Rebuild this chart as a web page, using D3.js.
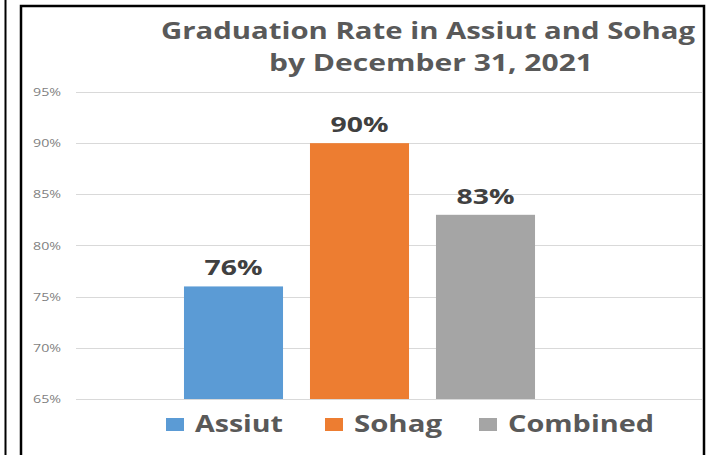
<!DOCTYPE html>
<html>
<head>
<meta charset="utf-8">
<script src="https://cdn.jsdelivr.net/npm/d3@7"></script>
<style>
  body { margin: 0; background: #fff; }
  text { font-family: "Open Sans", "DejaVu Sans", sans-serif; }
</style>
</head>
<body>
<svg width="710" height="455"></svg>
<script>
const series = ['Assiut', 'Sohag', 'Combined'];
const rates = [0.76, 0.90, 0.83];
const tickValues = [0.65, 0.70, 0.75, 0.80, 0.85, 0.90, 0.95];
const titleLines = ['Graduation Rate in Assiut and Sohag', 'by December 31, 2021'];

const colors = ['#5b9bd5', '#ed7d31', '#a5a5a5'];

const svg = d3.select('svg');

// outer borders
svg.append('line')
  .attr('x1', 5.5).attr('x2', 5.5).attr('y1', 0).attr('y2', 455)
  .attr('stroke', '#000').attr('stroke-width', 2);
svg.append('path')
  .attr('d', 'M21,460V6H704V460')
  .attr('fill', 'none').attr('stroke', '#000').attr('stroke-width', 2.5);

const y = d3.scaleLinear().domain([0.65, 0.95]).range([399, 92]);
const x = d3.scaleBand().domain(series).range([170.5, 548.5]).paddingInner(0.214).paddingOuter(0.107);

// gridlines
svg.append('g')
  .selectAll('line')
  .data(tickValues)
  .enter()
  .append('line')
  .attr('x1', 76).attr('x2', 702)
  .attr('y1', d => Math.round(y(d)) + 0.5)
  .attr('y2', d => Math.round(y(d)) + 0.5)
  .attr('stroke', '#d9d9d9').attr('stroke-width', 1.2);

// y labels
svg.append('g')
  .selectAll('text')
  .data(tickValues)
  .enter()
  .append('text')
  .attr('x', 61)
  .attr('y', d => y(d) + 4)
  .attr('text-anchor', 'end')
  .attr('font-size', 10.5)
  .attr('fill', '#7f7f7f')
  .attr('textLength', 28)
  .attr('lengthAdjust', 'spacingAndGlyphs')
  .text(d3.format('.0%'));

// bars
svg.append('g')
  .selectAll('rect')
  .data(series)
  .enter()
  .append('rect')
  .attr('x', d => x(d))
  .attr('width', x.bandwidth())
  .attr('y', (d, i) => y(rates[i]))
  .attr('height', (d, i) => y(0.65) - y(rates[i]))
  .attr('fill', (d, i) => colors[i]);

// data labels
svg.append('g')
  .selectAll('text')
  .data(series)
  .enter()
  .append('text')
  .attr('x', d => x(d) + x.bandwidth() / 2)
  .attr('y', (d, i) => y(rates[i]) - 11)
  .attr('text-anchor', 'middle')
  .attr('font-size', 22)
  .attr('font-weight', 'bold')
  .attr('fill', '#404040')
  .attr('textLength', 58)
  .attr('lengthAdjust', 'spacingAndGlyphs')
  .text((d, i) => d3.format('.0%')(rates[i]));

// title
const titleWidths = [534, 324];
const titleY = [39, 71];
svg.append('g')
  .selectAll('text')
  .data(titleLines)
  .enter()
  .append('text')
  .attr('x', (d, i) => i === 0 ? 428 : 431)
  .attr('y', (d, i) => titleY[i])
  .attr('text-anchor', 'middle')
  .attr('font-size', 23)
  .attr('font-weight', 'bold')
  .attr('fill', '#595959')
  .attr('textLength', (d, i) => titleWidths[i])
  .attr('lengthAdjust', 'spacingAndGlyphs')
  .text(d => d);

// legend
const legendX = [166, 325, 479];
const legendW = [88, 88, 146];
const legend = svg.selectAll('.legend')
  .data(series)
  .enter()
  .append('g')
  .attr('class', 'legend')
  .attr('transform', (d, i) => `translate(${legendX[i]}, 418)`);

legend.append('rect')
  .attr('width', 18).attr('height', 13)
  .attr('fill', (d, i) => colors[i]);

legend.append('text')
  .attr('x', 29)
  .attr('y', 14)
  .attr('font-size', 23)
  .attr('font-weight', 'bold')
  .attr('fill', '#595959')
  .attr('textLength', (d, i) => legendW[i])
  .attr('lengthAdjust', 'spacingAndGlyphs')
  .text(d => d);
</script>
</body>
</html>
